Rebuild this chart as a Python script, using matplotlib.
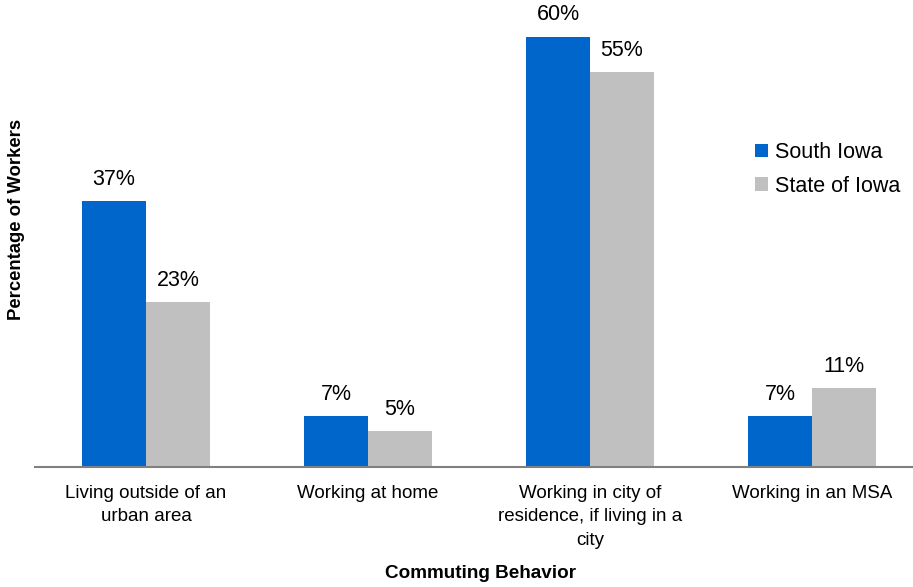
import matplotlib.pyplot as plt
import numpy as np

plt.rcParams['font.family'] = ['Liberation Sans', 'DejaVu Sans']

categories = ["Living outside of an\nurban area", "Working at home",
              "Working in city of\nresidence, if living in a\ncity", "Working in an MSA"]
south_iowa = [37, 7, 60, 7]
state_iowa = [23, 5, 55, 11]
series_names = ["South Iowa", "State of Iowa"]

BLUE = "#0066CC"
GRAY = "#C0C0C0"

fig = plt.figure(figsize=(9.13, 5.87), dpi=100)
ax = fig.add_axes([35 / 913, (587 - 466.5) / 587, (913 - 35) / 913, 466.5 / 587])

x = np.arange(len(categories))
w = 0.288
b1 = ax.bar(x - w / 2, south_iowa, w, color=BLUE, label=series_names[0])
b2 = ax.bar(x + w / 2, state_iowa, w, color=GRAY, label=series_names[1])

for bars, vals in ((b1, south_iowa), (b2, state_iowa)):
    for r, v in zip(bars, vals):
        ax.annotate(f"{v}%", (r.get_x() + r.get_width() / 2, v), xytext=(0, 8),
                    textcoords="offset points", ha="center", va="bottom", fontsize=15.5)

ax.set_xlim(-0.5, 3.455)
ax.set_ylim(0, 65.1)
ax.set_xticks(x)
ax.set_xticklabels(categories, fontsize=13.5, linespacing=1.5)
ax.tick_params(axis="x", length=0, pad=13)
ax.set_yticks([])
for s in ("top", "right", "left"):
    ax.spines[s].set_visible(False)
ax.spines["bottom"].set_color("#808080")
ax.spines["bottom"].set_linewidth(1.5)

fig.text(480 / 913, 1 - 573 / 587, "Commuting Behavior", ha="center", va="center",
         fontsize=13.6, fontweight="bold")
fig.text(17 / 913, 1 - 219 / 587, "Percentage of Workers", ha="center", va="center",
         rotation=90, fontsize=13.3, fontweight="bold")

ax.legend(loc="upper left", bbox_to_anchor=(755 / 913, 1 - 142 / 587),
          bbox_transform=fig.transFigure, frameon=False, fontsize=15.5,
          handlelength=0.6, handleheight=0.6, handletextpad=0.35,
          labelspacing=0.6, borderpad=0, borderaxespad=0)

fig.savefig("out.png", dpi=100)
